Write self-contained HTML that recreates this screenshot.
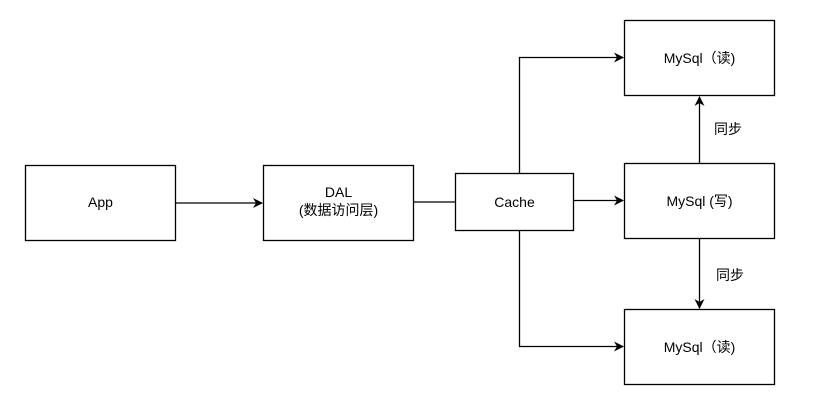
<!DOCTYPE html>
<html><head><meta charset="utf-8"><style>
body{margin:0;background:#fff;}
svg{display:block}
text{font-family:"Liberation Sans","Noto Sans CJK SC",sans-serif;font-size:14px;fill:#000;}
</style></head><body>
<svg width="824" height="408" viewBox="0 0 824 408">
<defs><marker id="a" markerWidth="10" markerHeight="10" refX="9" refY="5" orient="auto" markerUnits="userSpaceOnUse"><path d="M0,0 L10,5 L0,10 L3,5 Z" fill="#000"/></marker></defs>
<g fill="#fff" stroke="#000" stroke-width="1.3">
<rect x="25.5" y="165.5" width="150" height="75"/>
<rect x="263.5" y="165.5" width="150" height="75"/>
<rect x="455.5" y="173.5" width="118" height="57"/>
<rect x="624.5" y="20.5" width="150" height="75"/>
<rect x="624.5" y="163.5" width="150" height="75"/>
<rect x="624.5" y="309.5" width="150" height="75"/>
</g>
<g stroke="#000" stroke-width="1.3" fill="none">
<line x1="175.5" y1="203" x2="262" y2="203" marker-end="url(#a)"/>
<line x1="413.5" y1="202" x2="455.5" y2="202"/>
<line x1="573.5" y1="200.5" x2="623" y2="200.5" marker-end="url(#a)"/>
<polyline points="519.5,173.5 519.5,57.5 623,57.5" marker-end="url(#a)"/>
<polyline points="519.5,230.5 519.5,346.5 623,346.5" marker-end="url(#a)"/>
<line x1="699.5" y1="163.5" x2="699.5" y2="97" marker-end="url(#a)"/>
<line x1="699.5" y1="238.5" x2="699.5" y2="308" marker-end="url(#a)"/>
</g>
<text x="100.5" y="207" text-anchor="middle">App</text>
<text x="338.5" y="197" text-anchor="middle">DAL</text>
<text x="338.5" y="215" text-anchor="middle">(数据访问层)</text>
<text x="514.5" y="207" text-anchor="middle">Cache</text>
<text x="699.5" y="63" text-anchor="middle">MySql（读)</text>
<text x="699.5" y="206" text-anchor="middle">MySql (写)</text>
<text x="699.5" y="352" text-anchor="middle">MySql（读)</text>
<text x="714" y="134">同步</text>
<text x="716" y="280">同步</text>
</svg>
</body></html>
